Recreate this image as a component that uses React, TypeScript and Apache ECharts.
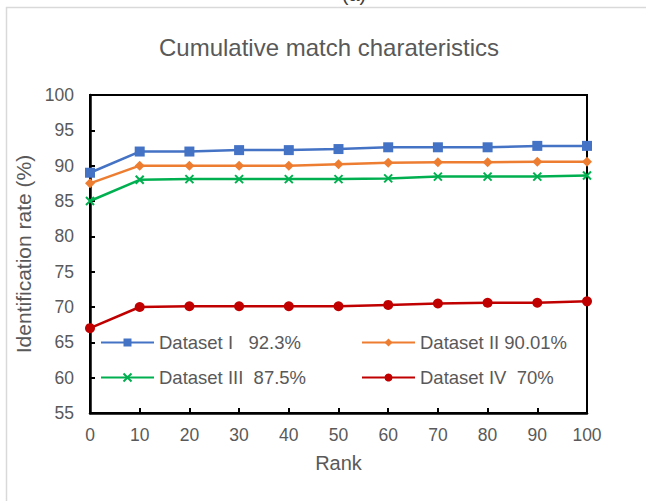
import React, { useEffect, useRef } from "react";
import * as echarts from "echarts";

const ranks = [0, 10, 20, 30, 40, 50, 60, 70, 80, 90, 100];
const dataset1 = [89.0, 92.0, 92.0, 92.2, 92.2, 92.35, 92.6, 92.6, 92.6, 92.8, 92.8];
const dataset2 = [87.5, 90.0, 90.0, 90.0, 90.0, 90.2, 90.4, 90.5, 90.5, 90.55, 90.55];
const dataset3 = [85.0, 88.0, 88.1, 88.1, 88.1, 88.1, 88.2, 88.45, 88.45, 88.45, 88.6];
const dataset4 = [67.0, 70.0, 70.1, 70.1, 70.1, 70.1, 70.3, 70.5, 70.6, 70.6, 70.8];
const seriesNames = [
  "Dataset I   92.3%",
  "Dataset II 90.01%",
  "Dataset III  87.5%",
  "Dataset IV  70%",
];
const seriesColors = ["#4472C4", "#ED7D31", "#00B050", "#C00000"];
const seriesSymbols = ["rect", "diamond", "path://M0,0L10,10M10,0L0,10", "circle"];
const seriesSymbolSizes = [10, 10, 8, 10];

const FONT = "'Liberation Sans', Arial, sans-serif";
const GREY = "#595959";

export default function App() {
  const ref = useRef<HTMLDivElement>(null);
  useEffect(() => {
    if (!ref.current) return;
    const chart = echarts.init(ref.current, null, { renderer: "svg" });
    const all = [dataset1, dataset2, dataset3, dataset4];
    const series = all.map((d, i) => ({
      name: seriesNames[i],
      type: "line",
      data: d.map((v, j) => [ranks[j], v]),
      symbol: seriesSymbols[i],
      symbolSize: seriesSymbolSizes[i],
      lineStyle: { color: seriesColors[i], width: 2.5 },
      itemStyle:
        i === 2
          ? { color: seriesColors[i], borderColor: seriesColors[i], borderWidth: 2 }
          : { color: seriesColors[i] },
      emphasis: { disabled: true },
      z: 10 - i,
    }));
    const legendCommon = {
      orient: "vertical",
      top: 333,
      itemWidth: 53,
      itemHeight: 10,
      itemGap: 16,
      padding: 0,
      textStyle: { fontFamily: FONT, fontSize: 18.5, color: GREY },
    };
    chart.setOption({
      animation: false,
      backgroundColor: "#ffffff",
      textStyle: { fontFamily: FONT },
      title: {
        text: "Cumulative match charateristics",
        left: 159,
        top: 35,
        padding: 0,
        textStyle: { fontFamily: FONT, fontSize: 24, fontWeight: "normal", color: GREY },
      },
      graphic: [
        {
          type: "rect",
          shape: { x: 6.5, y: 7.5, width: 800, height: 700 },
          style: { fill: "none", stroke: "#d9d9d9", lineWidth: 1.5 },
          silent: true,
        },
        {
          type: "text",
          x: 354,
          y: -16,
          style: { text: "(a)", fill: "#404040", fontSize: 20, fontFamily: FONT, textAlign: "center" },
          silent: true,
        },
      ],
      grid: {
        left: 90,
        top: 95,
        width: 497,
        height: 318,
        show: true,
        borderColor: "#000",
        borderWidth: 2,
        backgroundColor: "transparent",
      },
      legend: [
        { ...legendCommon, data: [seriesNames[0], seriesNames[2]], left: 100 },
        { ...legendCommon, data: [seriesNames[1], seriesNames[3]], left: 361 },
      ],
      xAxis: {
        type: "value",
        min: 0,
        max: 100,
        interval: 10,
        name: "Rank",
        nameLocation: "middle",
        nameGap: 40,
        nameTextStyle: { fontFamily: FONT, fontSize: 20, color: GREY },
        axisLine: { show: true, lineStyle: { color: "#000", width: 2.5 } },
        axisTick: { show: true, inside: true, length: 5, lineStyle: { color: "#000", width: 2 } },
        axisLabel: { fontFamily: FONT, fontSize: 17.5, color: GREY, margin: 13 },
        splitLine: { show: false },
      },
      yAxis: {
        type: "value",
        min: 55,
        max: 100,
        interval: 5,
        name: "Identification rate (%)",
        nameLocation: "middle",
        nameGap: 52,
        nameTextStyle: { fontFamily: FONT, fontSize: 21, color: GREY },
        axisLine: { show: true, lineStyle: { color: "#000", width: 2.5 } },
        axisTick: { show: true, inside: true, length: 5, lineStyle: { color: "#000", width: 2 } },
        axisLabel: { fontFamily: FONT, fontSize: 17.5, color: GREY, margin: 16 },
        splitLine: { show: false },
      },
      series,
    });
    return () => chart.dispose();
  }, []);
  return (
    <div
      ref={ref}
      style={{ position: "absolute", left: 0, top: 0, width: 646, height: 501 }}
    />
  );
}
